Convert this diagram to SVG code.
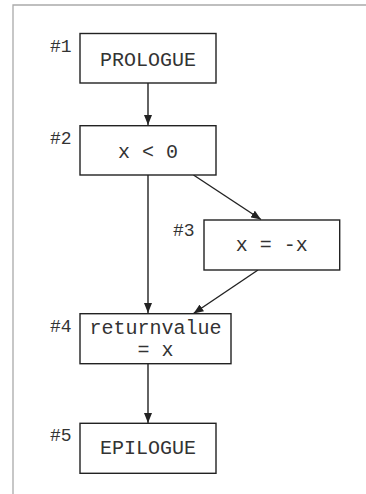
<svg xmlns="http://www.w3.org/2000/svg" width="366" height="494" viewBox="0 0 366 494">
<style>
.box{fill:#fff;stroke:#222;stroke-width:1.4}
.t{font-family:"Liberation Mono","Courier New",monospace;font-size:20px;fill:#333;text-anchor:middle}
.lbl{font-family:"Liberation Mono","Courier New",monospace;font-size:18px;fill:#333}
.edge{stroke:#222;stroke-width:1.4;fill:none;marker-end:url(#ah)}
</style>
<defs>
<marker id="ah" viewBox="0 0 10 8" refX="10" refY="4" markerWidth="10" markerHeight="8" markerUnits="userSpaceOnUse" orient="auto">
<path d="M0,0 L10,4 L0,8 z" fill="#222"/>
</marker>
</defs>
<rect width="366" height="494" fill="#fff"/>
<path d="M13,494 V5 H366" fill="none" stroke="#aaa" stroke-width="1.3"/>
<g id="connectors">
<line class="edge" x1="148" y1="83" x2="148" y2="125"/>
<line class="edge" x1="193.5" y1="175" x2="261" y2="219.5"/>
<line class="edge" x1="148" y1="175" x2="148" y2="313"/>
<line class="edge" x1="258" y1="270" x2="193.5" y2="313.5"/>
<line class="edge" x1="148" y1="364" x2="148" y2="423"/>
</g>
<g id="n1">
<rect class="box" x="80" y="33.5" width="136" height="49.5"/>
<text class="t" x="148" y="66">PROLOGUE</text>
<text class="lbl" x="50" y="52">#1</text>
</g>
<g id="n2">
<rect class="box" x="80" y="125.7" width="136" height="49.3"/>
<text class="t" x="148" y="158" xml:space="preserve">x &lt; 0</text>
<text class="lbl" x="50" y="144">#2</text>
</g>
<g id="n3">
<rect class="box" x="204" y="220" width="135.7" height="50"/>
<text class="t" x="271.8" y="251" xml:space="preserve">x = -x</text>
<text class="lbl" x="173" y="236">#3</text>
</g>
<g id="n4">
<rect class="box" x="80" y="313.7" width="151" height="50"/>
<text class="t" x="155.5" y="334">returnvalue</text>
<text class="t" x="155.5" y="355.5">= x</text>
<text class="lbl" x="50" y="332">#4</text>
</g>
<g id="n5">
<rect class="box" x="80" y="423.3" width="136" height="50"/>
<text class="t" x="148" y="454">EPILOGUE</text>
<text class="lbl" x="50" y="441">#5</text>
</g>
</svg>
